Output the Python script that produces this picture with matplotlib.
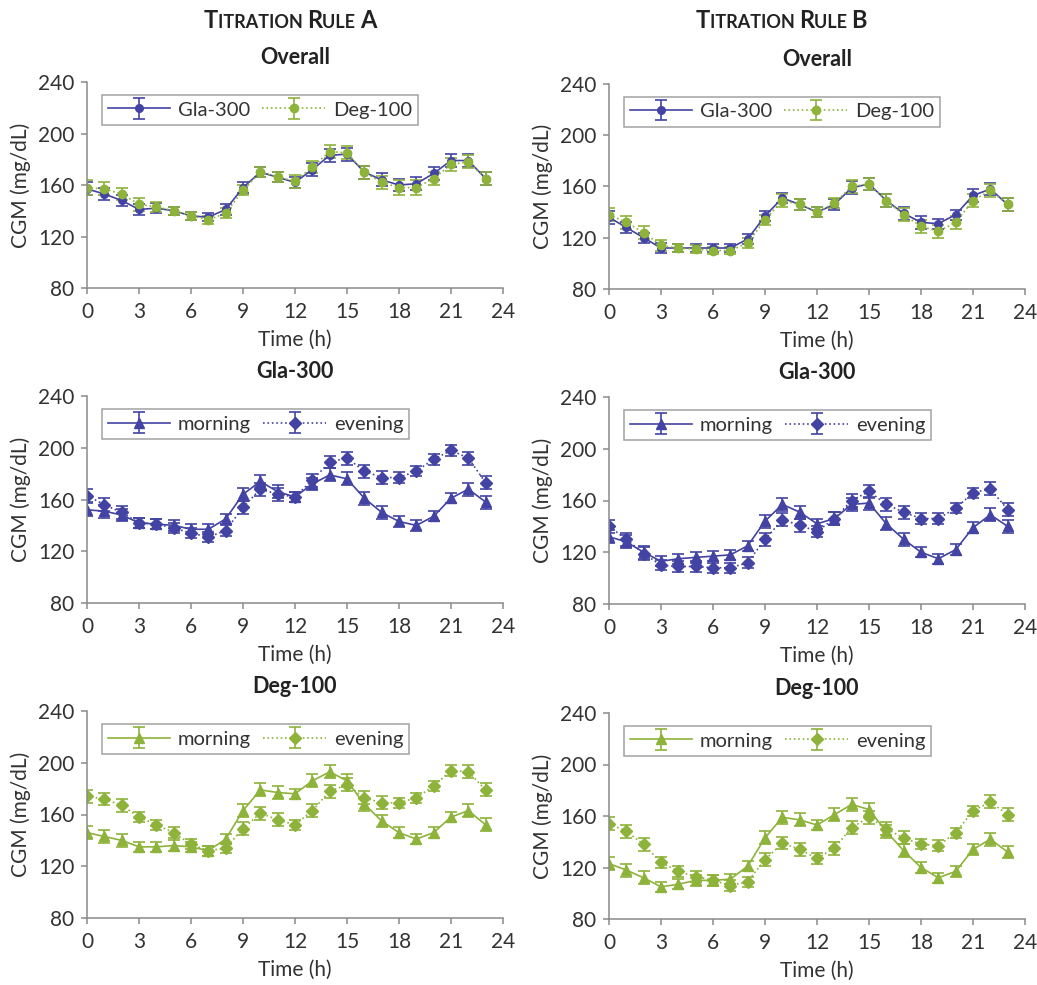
import matplotlib
matplotlib.use("Agg")
import matplotlib.pyplot as plt

plt.rcParams['font.family'] = ['Lato', 'DejaVu Sans']

BLUE = '#4343a3'
GREEN = '#8db33a'

hours = list(range(24))

# Titration rule A, overall
a_gla = [157, 153, 148, 141, 142, 140, 136, 135, 141, 158, 170, 166,
         162, 172, 183, 184, 170, 164, 160, 161, 169, 179, 179, 165]
a_deg = [158, 157, 153, 145, 143, 140, 136, 133, 138, 156, 170, 166,
         163, 174, 186, 185, 170, 162, 158, 158, 165, 176, 178, 165]
a_gla_err = [5, 5, 4, 4, 4, 3, 3, 3, 4, 4, 4, 4, 4, 5, 5, 5, 5, 5, 5, 5, 5, 5, 5, 5]
a_deg_err = [6, 5, 5, 5, 4, 3, 3, 3, 4, 4, 4, 4, 5, 5, 5, 5, 5, 5, 6, 6, 5, 5, 5, 5]

# Titration rule B, overall
b_gla = [136, 128, 120, 112, 112, 112, 112, 112, 119, 137, 151, 146,
         140, 146, 159, 162, 149, 139, 132, 131, 138, 153, 158, 146]
b_deg = [138, 132, 124, 114, 112, 111, 110, 110, 116, 134, 149, 146,
         140, 147, 160, 162, 149, 138, 129, 125, 132, 149, 157, 146]
b_gla_err = [5, 4, 4, 4, 3, 3, 3, 3, 4, 4, 4, 4, 4, 4, 5, 5, 5, 5, 5, 4, 4, 5, 5, 5]
b_deg_err = [5, 5, 5, 4, 3, 3, 3, 3, 4, 4, 5, 4, 4, 4, 5, 5, 5, 5, 5, 5, 5, 5, 5, 5]

# Gla-300 morning / evening
a_gla_m = [152, 151, 148, 142, 141, 140, 137, 137, 145, 164, 174, 166,
           162, 172, 179, 176, 161, 150, 143, 140, 147, 161, 168, 158]
a_gla_e = [163, 156, 150, 142, 141, 138, 134, 131, 136, 154, 168, 164,
           162, 175, 189, 192, 182, 177, 177, 182, 191, 198, 192, 173]
b_gla_m = [132, 128, 120, 113, 115, 116, 117, 118, 125, 144, 157, 151,
           142, 146, 157, 158, 142, 130, 120, 115, 122, 139, 149, 140]
b_gla_e = [140, 130, 119, 110, 109, 109, 108, 108, 112, 130, 145, 141,
           136, 146, 160, 167, 157, 151, 146, 146, 154, 166, 169, 153]

# Deg-100 morning / evening
a_deg_m = [146, 143, 140, 135, 135, 136, 135, 132, 141, 163, 179, 177,
           176, 186, 193, 186, 168, 155, 146, 141, 146, 158, 163, 152]
a_deg_e = [174, 172, 167, 158, 152, 146, 137, 132, 134, 149, 161, 156,
           152, 163, 178, 183, 173, 169, 169, 173, 182, 194, 193, 179]
b_deg_m = [123, 118, 112, 105, 107, 110, 110, 111, 121, 143, 159, 157,
           153, 161, 169, 165, 148, 133, 120, 112, 117, 134, 142, 132]
b_deg_e = [154, 148, 138, 124, 117, 113, 110, 106, 109, 126, 139, 134,
           127, 135, 151, 159, 150, 143, 138, 137, 147, 164, 171, 161]

me_err = [5, 5, 5, 4, 4, 4, 4, 4, 4, 5, 5, 5, 4, 5, 5, 5, 5, 5, 4, 4, 4, 4, 5, 5]

fig = plt.figure(figsize=(10.37, 9.85), dpi=100)

W = 1037.0
H = 985.0


def make_ax(left, top, right, bottom):
    return fig.add_axes([left / W, 1 - bottom / H, (right - left) / W, (bottom - top) / H])


def style(ax, title):
    ax.set_xlim(0, 24)
    ax.set_ylim(80, 240)
    ax.set_xticks(range(0, 25, 3))
    ax.set_yticks(range(80, 241, 40))
    for s in ['top', 'right']:
        ax.spines[s].set_visible(False)
    for s in ['left', 'bottom']:
        ax.spines[s].set_color('#8a8a8a')
        ax.spines[s].set_linewidth(1.1)
    ax.tick_params(labelsize=15, colors='#8a8a8a', labelcolor='#333333', length=4, width=1.1)
    ax.tick_params(axis='x', pad=6)
    ax.tick_params(axis='y', pad=5)
    ax.set_xlabel('Time (h)', fontsize=15, color='#333333', labelpad=6)
    ax.set_ylabel('CGM (mg/dL)', fontsize=15, color='#333333', labelpad=5)
    ax.set_title(title, fontsize=15.5, fontweight='bold', color='#222222', pad=13)


def series(ax, y, err, color, marker, ls, ms, label):
    ax.errorbar(hours, y, yerr=err, color=color, ls=ls, lw=1.2, marker=marker,
                ms=ms, capsize=4, elinewidth=1.2, capthick=1.2, label=label)


def legend(ax):
    leg = ax.legend(loc='upper left', bbox_to_anchor=(0.035, 0.935), ncol=2,
                    fontsize=14.5, handlelength=3.1, columnspacing=0.6,
                    handletextpad=0.4, borderpad=0.3, borderaxespad=0,
                    fancybox=False, frameon=True, edgecolor='#8a8a8a')
    leg.get_frame().set_linewidth(1.1)
    for t in leg.get_texts():
        t.set_color('#333333')


boxes = [
    (87, 82, 503, 288), (609, 84, 1025, 289),
    (87, 396, 503, 603), (609, 397, 1025, 604),
    (87, 711, 503, 918), (609, 713, 1025, 919),
]
axs = [make_ax(*b) for b in boxes]

# overall
for ax, g, ge, d, de in [(axs[0], a_gla, a_gla_err, a_deg, a_deg_err),
                         (axs[1], b_gla, b_gla_err, b_deg, b_deg_err)]:
    series(ax, g, ge, BLUE, 'o', '-', 5.5, 'Gla-300')
    series(ax, d, de, GREEN, 'o', ':', 6, 'Deg-100')
    style(ax, 'Overall')
    legend(ax)

# morning / evening
for ax, m, e, c, t in [(axs[2], a_gla_m, a_gla_e, BLUE, 'Gla-300'),
                       (axs[3], b_gla_m, b_gla_e, BLUE, 'Gla-300'),
                       (axs[4], a_deg_m, a_deg_e, GREEN, 'Deg-100'),
                       (axs[5], b_deg_m, b_deg_e, GREEN, 'Deg-100')]:
    series(ax, m, me_err, c, '^', '-', 7.5, 'morning')
    series(ax, e, me_err, c, 'D', ':', 6, 'evening')
    style(ax, t)
    legend(ax)


# small-caps headers
def small_caps(text_parts, cx, cy):
    renderer = fig.canvas.get_renderer()
    objs = []
    for s, size in text_parts:
        objs.append(fig.text(0, cy / H, s, fontsize=size, fontweight='bold',
                             color='#222222', va='baseline', ha='left',
                             transform=fig.transFigure))
    widths = [o.get_window_extent(renderer).width for o in objs]
    x = cx - sum(widths) / 2
    for o, w in zip(objs, widths):
        o.set_x(x / W)
        x += w


small_caps([('T', 17), ('ITRATION ', 13), ('R', 17), ('ULE ', 13), ('A', 17)], 290, 985 - 28)
small_caps([('T', 17), ('ITRATION ', 13), ('R', 17), ('ULE ', 13), ('B', 17)], 781, 985 - 28)

fig.savefig('out.png', dpi=100)
